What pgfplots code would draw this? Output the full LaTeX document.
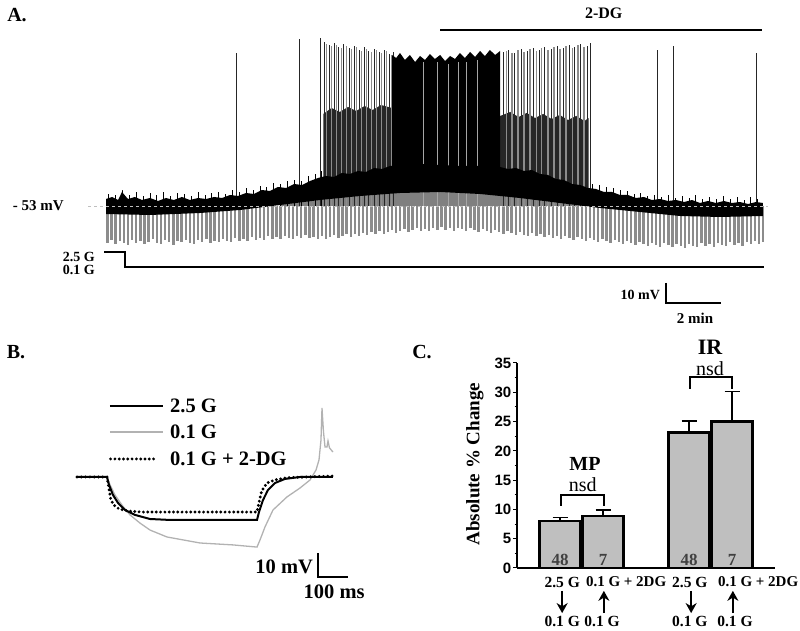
\documentclass[border=0pt]{standalone}
\usepackage{fontspec}
\setmainfont{Liberation Serif}
\setsansfont{Liberation Sans}
\usepackage{pgfplots}
\pgfplotsset{compat=1.18}
\usetikzlibrary{arrows.meta}

\newcommand{\fs}[1]{\fontsize{#1}{#1}\selectfont}

\begin{document}
\begin{tikzpicture}
\path[use as bounding box] (0,0) rectangle (800pt,631pt);

% panel letters
\node[font=\bfseries\fs{20}] at (17pt,616pt) {A.};
\node[font=\bfseries\fs{20}] at (16pt,279pt) {B.};
\node[font=\bfseries\fs{20}] at (422pt,279pt) {C.};

% ---------------- A: whole-cell trace (min, mV relative to -53 mV)
\begin{axis}[at={(106pt,301pt)}, anchor=south west, scale only axis,
  width=660pt, height=324pt, xmin=0, xmax=24, ymin=-62, ymax=100,
  hide axis, clip=false]
% hyperpolarizing current pulses
\addplot[ycomb, black!45, line width=2.3pt] coordinates {
 (0.05,-18.5) (0.20,-17) (0.35,-19) (0.50,-17.5) (0.65,-18.5) (0.80,-19.5) (0.95,-17) (1.10,-18.5) (1.25,-17.5) (1.40,-19)
 (1.55,-18) (1.70,-16.5) (1.85,-18.5) (2.00,-19) (2.15,-17) (2.30,-18) (2.45,-19.5) (2.60,-17.5) (2.75,-18) (2.90,-17)
 (3.05,-18.5) (3.20,-19) (3.35,-17) (3.50,-18) (3.65,-16.5) (3.80,-18.5) (3.95,-17.5) (4.10,-18) (4.25,-16.5) (4.40,-17.5)
 (4.55,-18) (4.70,-16) (4.85,-17.5) (5.00,-16.5) (5.15,-17.5) (5.30,-15.5) (5.45,-17) (5.60,-16) (5.75,-17) (5.90,-15)
 (6.05,-16.5) (6.20,-15.5) (6.35,-16.5) (6.50,-15) (6.65,-16) (6.80,-16.5) (6.95,-15) (7.10,-16) (7.25,-14.5) (7.40,-16)
 (7.55,-15.5) (7.70,-16.5) (7.85,-15) (8.00,-16.5) (8.15,-15.5) (8.30,-14.5) (8.45,-16) (8.60,-15) (8.75,-14) (8.90,-15.5)
 (9.05,-14) (9.20,-15) (9.35,-13.5) (9.50,-14.5) (9.65,-13) (9.80,-14) (9.95,-12.5) (10.10,-14) (10.25,-13) (10.40,-12)
 (10.55,-13.5) (10.70,-12.5) (10.85,-11.5) (11.00,-13) (11.15,-12) (11.30,-11) (11.45,-12.5) (11.60,-11.5) (11.75,-12.5) (11.90,-11)
 (12.05,-12) (12.20,-10.5) (12.35,-12) (12.50,-11) (12.65,-12.5) (12.80,-11) (12.95,-11.5) (13.10,-12.5) (13.25,-11) (13.40,-12)
 (13.55,-13) (13.70,-11.5) (13.85,-12.5) (14.00,-13.5) (14.15,-12) (14.30,-13) (14.45,-14) (14.60,-12.5) (14.75,-13.5) (14.90,-14.5)
 (15.05,-13) (15.20,-14.5) (15.35,-15) (15.50,-13.5) (15.65,-15) (15.80,-14) (15.95,-15.5) (16.10,-14.5) (16.25,-16) (16.40,-15)
 (16.55,-16.5) (16.70,-15) (16.85,-16) (17.00,-17) (17.15,-15.5) (17.30,-16.5) (17.45,-17.5) (17.60,-16) (17.75,-17) (17.90,-18)
 (18.05,-16.5) (18.20,-17.5) (18.35,-18.5) (18.50,-17) (18.65,-18) (18.80,-19) (18.95,-17.5) (19.10,-18.5) (19.25,-19.5) (19.40,-18)
 (19.55,-19) (19.70,-20) (19.85,-18.5) (20.00,-19.5) (20.15,-20.5) (20.30,-18.5) (20.45,-19.5) (20.60,-20.5) (20.75,-19) (20.90,-20)
 (21.05,-21) (21.20,-19) (21.35,-20) (21.50,-20.5) (21.65,-18.5) (21.80,-20) (21.95,-19) (22.10,-20.5) (22.25,-18.5) (22.40,-19.5)
 (22.55,-20) (22.70,-18) (22.85,-19.5) (23.00,-18.5) (23.15,-20) (23.30,-18) (23.45,-19) (23.60,-17.5) (23.75,-19) (23.90,-18)};
% pulses overlapping the depolarized band
\addplot[fill=black!50, draw=none] coordinates {
 (6.33,0) (9.24,0) (12.15,0) (15.05,0) (17.96,0)
 (17.96,3) (15.05,11) (12.15,14) (9.24,11) (6.33,5)} -- cycle;
% dense part of the burst
\addplot[fill=black!85, draw=none] coordinates {
 (7.90,46) (8.20,49) (8.50,47) (8.80,49.5) (9.10,47.5) (9.40,50) (9.70,48) (10.00,50.5) (10.40,49)
 (10.40,15) (7.90,12)} -- cycle;
\addplot[fill=black!85, draw=none] coordinates {
 (14.33,45) (14.70,47) (15.00,44.5) (15.30,46.5) (15.60,44) (15.90,46) (16.20,43.5) (16.50,45.5)
 (16.80,43) (17.10,45) (17.40,42.5) (17.55,44) (17.55,9) (14.33,15)} -- cycle;
% spikes
\addplot[ycomb, black!85, line width=0.9pt] coordinates {
 (0.58,8) (4.76,76.5) (7.02,83.5) (7.78,84)
 (7.93,82) (8.11,80.5) (8.29,81.5) (8.47,79.5) (8.65,81) (8.84,79) (9.02,80) (9.20,78)
 (9.38,79.5) (9.56,77.5) (9.75,78.5) (9.93,77) (10.11,78) (10.29,76) (10.47,77)
 (14.44,77) (14.65,78) (14.87,76.5) (15.09,78.5) (15.31,77.5) (15.53,79) (15.75,78)
 (15.96,79.5) (16.18,78.5) (16.40,80) (16.62,79) (16.84,80.5) (17.05,79.5) (17.27,81)
 (17.49,80) (17.60,81.5) (20.04,78) (20.65,80) (23.67,76.5)};
\addplot[ycomb, black!45, line width=1.2pt] coordinates {
 (8.02,81) (8.20,80) (8.38,80.5) (8.56,79) (8.75,80) (8.93,78.5) (9.11,79.5) (9.29,77.5)
 (9.47,78.5) (9.65,77) (9.84,78) (10.02,76.5) (10.20,77.5) (10.38,75.5)
 (14.55,77.5) (14.76,76.5) (14.98,78) (15.20,77) (15.42,78.5) (15.64,77.5) (15.85,79)
 (16.07,78) (16.29,79.5) (16.51,78.5) (16.73,80) (16.95,79) (17.16,80.5) (17.38,79.5)};
% solid burst
\addplot[fill=black, draw=none] coordinates {
 (10.40,75.5) (10.55,74) (10.69,76.5) (10.87,73) (11.05,75.5) (11.24,72)
 (11.42,75) (11.60,73) (11.78,76) (11.96,73.5) (12.15,75.5) (12.33,72.5)
 (12.51,75) (12.69,73.5) (12.87,76.5) (13.05,74) (13.24,77) (13.42,74.5)
 (13.60,77.5) (13.78,75) (13.96,78) (14.15,75.5) (14.33,77.5)
 (14.33,15) (10.40,15)} -- cycle;
\addplot[ycomb, black!35, line width=0.6pt] coordinates {
 (11.53,72) (12.04,72) (12.44,71) (12.80,72) (13.09,72) (13.49,73)};
% noise on the membrane potential
\addplot[ycomb, black, line width=0.8pt] coordinates {
 (0.10,6) (0.35,5.5) (0.60,7.5) (0.85,5.5) (1.10,7) (1.35,5) (1.60,6.5) (1.85,5.5)
 (2.10,7) (2.35,5) (2.60,6.5) (2.85,6) (3.10,5) (3.35,7) (3.60,5.5) (3.85,6.5)
 (4.10,7) (4.35,6) (4.60,8) (4.85,7) (5.10,9) (5.35,8) (5.60,10) (5.85,9.5)
 (6.10,11.5) (6.35,11) (6.60,12.5) (6.85,13) (7.10,12.5) (7.35,15) (7.60,16) (7.85,17.5)
 (17.70,11) (17.95,10.5) (18.20,9.5) (18.45,9) (18.70,8) (18.95,7.5) (19.20,6) (19.45,6.5)
 (19.70,5) (19.95,5.5) (20.20,4.5) (20.45,5.5) (20.70,4) (20.95,5) (21.20,4) (21.45,5.5)
 (21.70,3.5) (21.95,4.5) (22.20,3.5) (22.45,5) (22.70,3.5) (22.95,4.5) (23.20,3) (23.45,4.5) (23.70,3.5)};
% membrane potential band
\addplot[fill=black, draw=none] coordinates {
 (0,3.5) (0.22,4.5) (0.44,3) (0.58,7) (0.80,3.5) (1.05,4.5) (1.31,3) (1.60,4)
 (1.89,2.5) (2.18,4) (2.47,3) (2.76,4.5) (3.05,3) (3.35,4) (3.64,3.5) (3.93,4.5)
 (4.22,4) (4.51,5.5) (4.80,5) (5.09,6.5) (5.38,6) (5.67,8) (5.96,7.5) (6.25,9.5)
 (6.55,9) (6.84,11) (7.13,10.5) (7.42,12.5) (7.71,14) (8.00,15) (8.29,14.5)
 (8.58,16.5) (8.87,16) (9.16,17.5) (9.45,17) (9.75,19) (10.04,18.5) (10.33,20)
 (10.69,20) (11.42,21) (12.15,20.5) (12.87,20) (13.60,20) (14.33,19.5)
 (14.62,18.5) (14.91,19) (15.20,17.5) (15.49,18) (15.78,16) (16.07,15.5)
 (16.36,13.5) (16.65,13) (16.95,11) (17.24,10.5) (17.53,9) (17.82,8.5) (18.11,7)
 (18.40,7) (18.69,5.5) (18.98,5.5) (19.27,4) (19.56,4.5) (19.85,3) (20.15,3.5)
 (20.44,2.5) (20.73,3) (21.02,2) (21.31,3) (21.60,1.5) (21.89,2.5) (22.18,1.5)
 (22.47,2.5) (22.76,1.5) (23.05,2) (23.35,1) (23.64,2) (23.89,1.5)
 (23.89,-5) (22.33,-5.5) (20.87,-5) (19.42,-3) (17.96,-1) (16.51,1.5) (15.05,4)
 (13.60,6) (12.15,7) (10.69,6.5) (9.24,5) (7.78,3) (6.33,0.5) (4.87,-2)
 (3.42,-3.5) (1.60,-4.5) (0,-4)} -- cycle;
\addplot[black!25, dashed, line width=0.7pt] coordinates {(-0.65,0) (24.07,0)};
% 2-DG application and glucose protocol
\addplot[black, line width=2.6pt] coordinates {(12.15,88) (23.85,88)};
\addplot[black, line width=1.8pt] coordinates {(-0.07,-23) (0.69,-23) (0.69,-30.5) (23.93,-30.5)};
\node[font=\bfseries\fs{16}] at (axis cs:18.1,96.5) {2-DG};
\node[font=\bfseries\fs{15}, anchor=east, inner sep=0pt] at (axis cs:-1.53,0) {- 53 mV};
\node[font=\bfseries\fs{14}, anchor=east, inner sep=0pt] at (axis cs:-0.4,-25.5) {2.5 G};
\node[font=\bfseries\fs{14}, anchor=east, inner sep=0pt] at (axis cs:-0.4,-31.8) {0.1 G};
% scale bar
\draw[line width=1.8pt] (axis cs:20.36,-38.5) -- (axis cs:20.36,-48.5) -- (axis cs:22.36,-48.5);
\node[font=\bfseries\fs{14}, anchor=east, inner sep=0pt] at (axis cs:20.15,-44.5) {10 mV};
\node[font=\bfseries\fs{15}] at (axis cs:21.42,-56) {2 min};
\end{axis}

% ---------------- B: voltage responses (ms, mV from rest)
\begin{axis}[at={(77pt,31pt)}, anchor=south west, scale only axis,
  width=273pt, height=200pt, xmin=0, xmax=910, ymin=-51.25, ymax=32.08,
  hide axis, clip=false, font=\bfseries\fs{20.5}]
\addplot[black!30, line width=1.3pt] coordinates {
 (0,0) (100,0) (110,-3.3) (126.7,-7.5) (150,-11.7) (176.7,-15.8) (210,-19.2)
 (243.3,-22.1) (300,-25) (410,-27.5) (520,-28.3) (600,-29.2) (610,-26.25)
 (626.7,-20.8) (653.3,-13.75) (700,-8.3) (743.3,-4.6) (776.7,-1.25) (796.7,2.9)
 (806.7,7.1) (813.3,15.4) (816.7,28.75) (821.7,18.75) (826.7,12.5) (833.3,12.5)
 (836.7,15) (841.7,12.1) (853.3,10.4)};
\addplot[black, line width=2pt] coordinates {
 (0,0) (100,0) (106.7,-3.3) (120,-7.5) (136.7,-10.8) (160,-13.75) (193.3,-15.8)
 (243.3,-17.5) (310,-17.9) (600,-17.9) (606.7,-14.6) (620,-9.6) (636.7,-5.4)
 (660,-2.5) (693.3,-0.8) (743.3,0) (853.3,0)};
\addplot[black, line width=3.2pt, line cap=round, dash pattern=on 0pt off 4.3pt] coordinates {
 (0,0) (100,0) (106.7,-5) (113,-9.6) (123,-11.7) (140,-13.3) (170,-14.2)
 (220,-14.6) (600,-14.6) (606,-11) (615,-6) (633,-2.5) (660,-1.2) (700,-0.3) (853,0.4)};
% legend
\draw[black, line width=2pt] (axis cs:110,29.6) -- (axis cs:287,29.6);
\draw[black!30, line width=1.3pt] (axis cs:110,18.75) -- (axis cs:287,18.75);
\draw[black, line width=3.2pt, line cap=round, dash pattern=on 0pt off 4.3pt] (axis cs:112,7.5) -- (axis cs:260,7.5);
\node[anchor=west, inner sep=0pt] at (axis cs:310,29.6) {2.5 G};
\node[anchor=west, inner sep=0pt] at (axis cs:310,18.75) {0.1 G};
\node[anchor=west, inner sep=0pt] at (axis cs:310,7.5) {0.1 G + 2-DG};
% scale bar
\draw[line width=1.6pt] (axis cs:803,-31.7) -- (axis cs:803,-41.7) -- (axis cs:903,-41.7);
\node[anchor=east, inner sep=0pt] at (axis cs:787,-37.5) {10 mV};
\node at (axis cs:857,-47.9) {100 ms};
\end{axis}

% ---------------- C: absolute % change
\begin{axis}[at={(517pt,63pt)}, anchor=south west, scale only axis,
  width=258pt, height=205pt, xmin=0, xmax=6, ymin=0, ymax=35,
  axis x line*=bottom, axis y line*=left, axis line style={line width=1.6pt},
  xtick=\empty, ytick={0,5,...,35}, minor y tick num=1,
  tick align=outside, major tick length=4pt, minor tick length=2.5pt,
  tick style={line width=1pt, black},
  yticklabel style={font=\sffamily\bfseries\fs{15}, inner sep=1.5pt},
  /pgf/number format/assume math mode=true,
  ylabel={Absolute \% Change},
  ylabel style={font=\bfseries\fs{19}, at={(rel axis cs:-0.163,0.507)}, anchor=center},
  clip=false]
\addplot[ybar, bar width=0.95, fill=black!25, draw=black, line width=2.4pt,
  error bars/.cd, y dir=plus, y explicit, error mark=|,
  error bar style={line width=1.6pt, black},
  error mark options={line width=1.6pt, black, mark size=7.5pt}]
 coordinates {(1,8.0) +- (0,0.6) (2,8.9) +- (0,1.0) (4,23.1) +- (0,2.0) (5,25.0) +- (0,5.1)};
\node[font=\bfseries\fs{17}, text=black!75] at (axis cs:1,1.4) {48};
\node[font=\bfseries\fs{17}, text=black!75] at (axis cs:2,1.4) {7};
\node[font=\bfseries\fs{17}, text=black!75] at (axis cs:4,1.4) {48};
\node[font=\bfseries\fs{17}, text=black!75] at (axis cs:5,1.4) {7};
% significance brackets
\draw[line width=1.5pt] (axis cs:1.02,10.6) -- (axis cs:1.02,12.46) -- (axis cs:2.02,12.46) -- (axis cs:2.02,10.6);
\draw[line width=1.5pt] (axis cs:4.02,30.6) -- (axis cs:4.02,32.6) -- (axis cs:5.0,32.6) -- (axis cs:5.0,30.6);
\node[font=\bfseries\fs{20}] at (axis cs:1.58,17.75) {MP};
\node[font=\fs{20}] at (axis cs:1.53,14.2) {nsd};
\node[font=\bfseries\fs{22}] at (axis cs:4.49,37.6) {IR};
\node[font=\fs{20}] at (axis cs:4.49,34.1) {nsd};
% conditions
\node[font=\bfseries\fs{15.5}] at (axis cs:1.05,-2.39) {2.5 G};
\node[font=\bfseries\fs{15}, anchor=west, inner sep=0pt] at (axis cs:1.60,-2.39) {0.1 G + 2DG};
\node[font=\bfseries\fs{15.5}] at (axis cs:4.02,-2.39) {2.5 G};
\node[font=\bfseries\fs{15}, anchor=west, inner sep=0pt] at (axis cs:4.67,-2.39) {0.1 G + 2DG};
\draw[line width=2.4pt, -{Stealth[length=10pt,width=11pt]}] (axis cs:1.05,-3.9) -- (axis cs:1.05,-7.7);
\draw[line width=2.4pt, -{Stealth[length=10pt,width=11pt]}] (axis cs:2.02,-7.7) -- (axis cs:2.02,-3.9);
\draw[line width=2.4pt, -{Stealth[length=10pt,width=11pt]}] (axis cs:4.05,-3.9) -- (axis cs:4.05,-7.7);
\draw[line width=2.4pt, -{Stealth[length=10pt,width=11pt]}] (axis cs:5.02,-7.7) -- (axis cs:5.02,-3.9);
\node[font=\bfseries\fs{15.5}] at (axis cs:1.05,-9.1) {0.1 G};
\node[font=\bfseries\fs{15.5}] at (axis cs:1.98,-9.1) {0.1 G};
\node[font=\bfseries\fs{15.5}] at (axis cs:4.02,-9.1) {0.1 G};
\node[font=\bfseries\fs{15.5}] at (axis cs:5.07,-9.1) {0.1 G};
\end{axis}
\end{tikzpicture}
\end{document}
